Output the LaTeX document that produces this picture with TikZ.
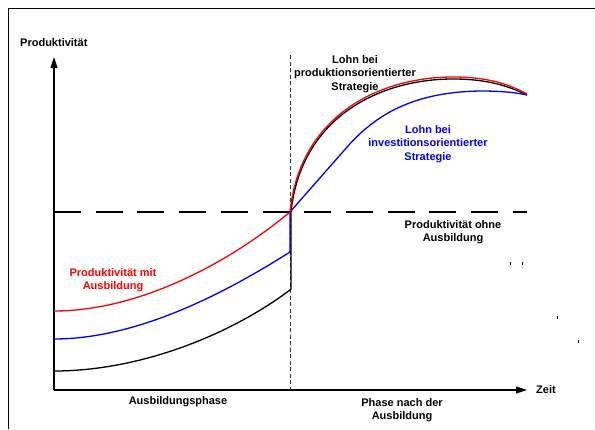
\documentclass[tikz,border=0pt]{standalone}
\usepackage{fontspec}
\setmainfont{Liberation Sans}
\usetikzlibrary{arrows.meta}

\begin{document}
\begin{tikzpicture}[x=1pt, y=-1pt,
  lbl/.style={font=\bfseries\fontsize{11}{13.2}\selectfont, align=center, inner sep=0pt},
  curve/.style={line width=1.3pt},
  axis/.style={line width=1.1pt, -{Triangle[length=11pt,width=7pt]}}]
\useasboundingbox (0,0) rectangle (595,429);
\draw [line width=0.9pt] (8,429) -- (8,8) -- (595,8);
% axes
\coordinate (O) at (54,390);
\coordinate (ytop) at (54,57);
\coordinate (xend) at (527,390);
\coordinate (ptop) at (290,55);
\coordinate (pbot) at (290,390);
\draw [axis] (O) -- (ytop);
\draw [axis] (O) -- (xend);
\node [lbl, anchor=west] (yl) at (20,43) {Produktivität};
\node [lbl, anchor=west] (xl) at (536,390) {Zeit};
\draw [line width=0.7pt, dash pattern=on 4pt off 2.5pt, black!80] (ptop) -- (pbot);
% productivity without training
\coordinate (h0) at (54,212);
\coordinate (h1) at (527,212);
\draw [line width=1.5pt, dash pattern=on 27pt off 14.7pt] (h0) -- (h1);
% curves
\draw [curve] (54,371) .. controls (140,371) and (230,335) .. (290,290) -- (291,289) -- (291,212)
  .. controls (301,117) and (380,79) .. (453,79) .. controls (490,79) and (510,87) .. (527,95);
\draw [curve, blue] (54,339) .. controls (140,339) and (230,290) .. (290,252) -- (290,212)
  -- (348,146) .. controls (380,110) and (420,92) .. (480,91) .. controls (505,91) and (518,93) .. (527,95);
\draw [curve, red] (54,311) .. controls (140,311) and (230,262) .. (290,212)
  .. controls (300,115) and (380,77) .. (453,77) .. controls (490,77) and (510,85) .. (527,94);
% labels
\node [lbl] (lp) at (355,74) {Lohn bei\\produktionsorientierter\\Strategie};
\node [lbl, blue] (li) at (428,144) {Lohn bei\\investitionsorientierter\\Strategie};
\node [lbl] (po) at (453,232) {Produktivität ohne\\Ausbildung};
\node [lbl, red] (pm) at (113,280) {Produktivität mit\\Ausbildung};
\node [lbl] (ap) at (178,402) {Ausbildungsphase};
\node [lbl] (pn) at (402,410) {Phase nach der\\Ausbildung};
% stray marks
\foreach \x/\y in {510/263, 522/263, 557/317, 578/341}
  \draw [line width=0.6pt] (\x,\y-1.5) -- (\x,\y+1.5);
\end{tikzpicture}
\end{document}
